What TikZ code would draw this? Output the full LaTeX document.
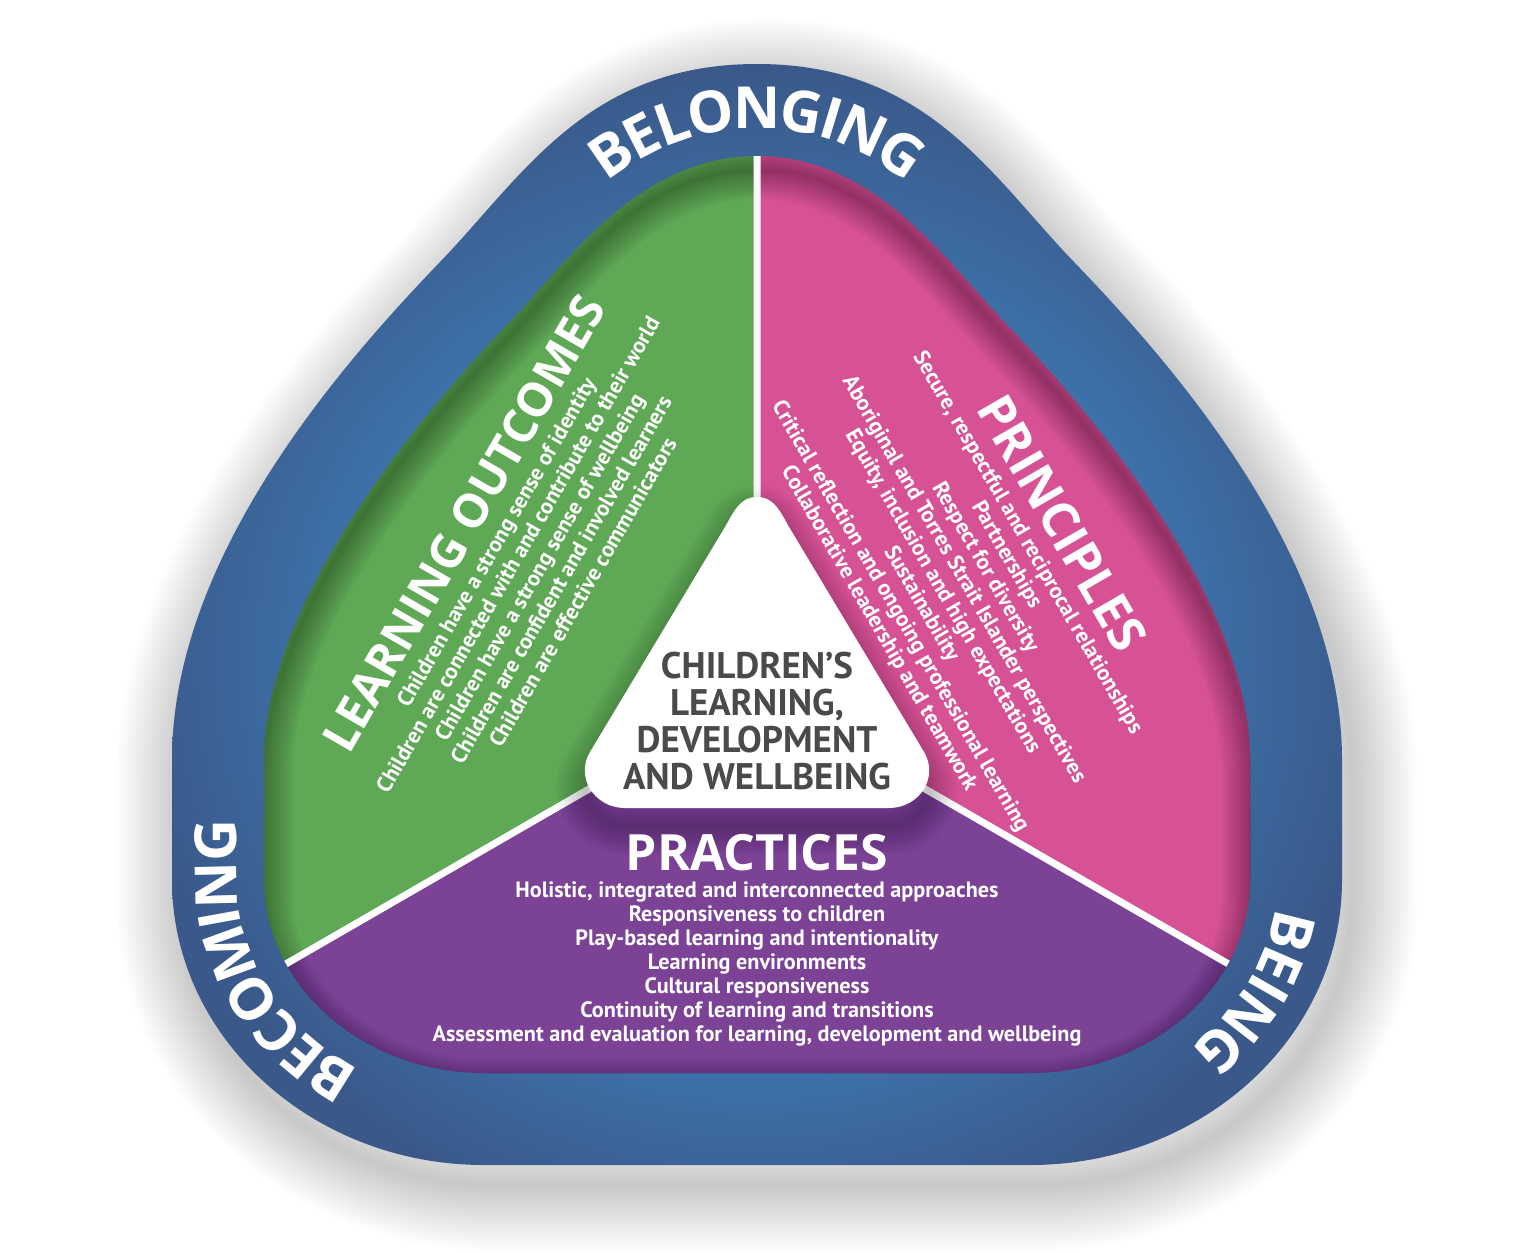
\documentclass[tikz,border=0pt]{standalone}
\usepackage{fontspec}
\setmainfont{PT Sans}
\newfontfamily\opensans{Open Sans}
\usetikzlibrary{decorations.text}
\definecolor{bandlight}{HTML}{3D72AA}
\definecolor{banddark}{HTML}{3A5889}
\definecolor{logreen}{HTML}{5EA856}
\definecolor{prpink}{HTML}{D75195}
\definecolor{prpurple}{HTML}{7B4295}
\definecolor{centergray}{HTML}{4A4A4D}
\pgfdeclareradialshading{bandshade}{\pgfpoint{0bp}{-4bp}}{color(0bp)=(bandlight); color(18bp)=(bandlight); color(27bp)=(banddark); color(50bp)=(banddark)}
\newcommand{\OuterPath}{(757,-64) .. controls (587,-64) and (523,-176) .. (440,-262)
 .. controls (336,-370) and (172,-560) .. (172,-760) -- (172,-880)
 .. controls (172,-1037) and (312,-1165) .. (484,-1165) -- (1030,-1165)
 .. controls (1202,-1165) and (1342,-1037) .. (1342,-880) -- (1342,-760)
 .. controls (1342,-560) and (1178,-370) .. (1074,-262)
 .. controls (991,-176) and (927,-64) .. (757,-64) -- cycle}
\newcommand{\InnerPath}{(757,-156) .. controls (637,-156) and (565,-265) .. (506,-326)
 .. controls (423,-412) and (264,-600) .. (264,-760) -- (264,-880)
 .. controls (264,-986) and (363,-1073) .. (484,-1073) -- (1030,-1073)
 .. controls (1151,-1073) and (1250,-986) .. (1250,-880) -- (1250,-760)
 .. controls (1250,-600) and (1091,-412) .. (1008,-326)
 .. controls (949,-265) and (877,-156) .. (757,-156) -- cycle}
\newcommand{\TriPath}{(757,-497) .. controls (775,-497) and (780.6,-512.9) .. (790.8,-530)
 -- (924,-752) .. controls (939.3,-777.7) and (919,-808) .. (889,-808)
 -- (625,-808) .. controls (595,-808) and (574.7,-777.7) .. (590,-752)
 -- (723.2,-530) .. controls (733.4,-512.9) and (739,-497) .. (757,-497) -- cycle}
\newcommand{\bandfont}{\opensans\bfseries\fontsize{29}{32}\selectfont}
\begin{document}
\begin{tikzpicture}[x=0.5pt,y=0.5pt,
  body/.style={text=white, font=\bfseries\fontsize{11.1}{13}\selectfont, inner sep=0pt, text height=7.8pt, text depth=0pt},
  headline/.style={text=white, font=\opensans\bfseries\fontsize{25}{28}\selectfont, inner sep=0pt, text height=17.9pt, text depth=0pt},
  ctext/.style={text=centergray, font=\bfseries\fontsize{18.5}{20}\selectfont, inner sep=0pt, text height=12.9pt, text depth=0pt},
  bandword/.style={decorate, decoration={text along path, text align=center, raise=-9.4pt, text color=white, text={|\bandfont|#1}}}]
\useasboundingbox (0,0) rectangle (1518,-1252);
\fill[white] (0,0) rectangle (1518,-1252);
% soft drop shadow
\foreach \i in {1,...,18}{
  \draw[black, opacity=0.011, line width=\i*3.6pt, xshift=5pt, yshift=-10pt] \OuterPath;
}
% band
\shade[shading=bandshade] \OuterPath;
% coloured sectors
\coordinate (C) at (757,-692);
\coordinate (topend) at (757,0);
\coordinate (leftend) at (0,-1129);
\coordinate (rightend) at (1518,-1131);
\begin{scope}
  \clip \InnerPath;
  \fill[logreen] (C) -- (topend) -- (0,0) -- (leftend) -- cycle;
  \fill[prpink] (C) -- (topend) -- (1518,0) -- (rightend) -- cycle;
  \fill[prpurple] (C) -- (leftend) -- (0,-1252) -- (1518,-1252) -- (rightend) -- cycle;
  \foreach \i in {1,...,16}{
    \draw[black, opacity=0.02, line width=\i*1.8pt, yshift=-7pt] \InnerPath;
  }
  \draw[white, line width=3.5pt] (C) -- (topend) (C) -- (leftend) (C) -- (rightend);
  \foreach \i in {1,...,12}{
    \draw[black, opacity=0.018, line width=\i*2.4pt, yshift=-9pt] \TriPath;
  }
\end{scope}
% centre triangle
\fill[white] \TriPath;
\node[ctext] (c1) at (757,-666) {CHILDREN’S};
\node[ctext] (c2) at (757,-703) {LEARNING,};
\node[ctext] (c3) at (757,-740) {DEVELOPMENT};
\node[ctext] (c4) at (757,-777) {AND WELLBEING};
% practices
\node[headline] (prt) at (757,-853) {PRACTICES};
\node[body] (pr1) at (757,-890) {Holistic, integrated and interconnected approaches};
\node[body] (pr2) at (757,-914) {Responsiveness to children};
\node[body] (pr3) at (757,-938) {Play-based learning and intentionality};
\node[body] (pr4) at (757,-962) {Learning environments};
\node[body] (pr5) at (757,-986) {Cultural responsiveness};
\node[body] (pr6) at (757,-1010) {Continuity of learning and transitions};
\node[body] (pr7) at (757,-1034) {Assessment and evaluation for learning, development and wellbeing};
% learning outcomes
\begin{scope}[shift={(463,-523)}, rotate=60, transform shape]
  \node[headline, font=\opensans\bfseries\fontsize{23.5}{28}\selectfont] (lot) at (0,0) {LEARNING OUTCOMES};
  \node[body] (lo1) at (0,-38) {Children have a strong sense of identity};
  \node[body] (lo2) at (0,-63) {Children are connected with and contribute to their world};
  \node[body] (lo3) at (0,-88) {Children have a strong sense of wellbeing};
  \node[body] (lo4) at (0,-113) {Children are confident and involved learners};
  \node[body] (lo5) at (0,-138) {Children are effective communicators};
\end{scope}
% principles
\begin{scope}[shift={(1062,-523)}, rotate=-60, transform shape]
  \node[headline] (pst) at (0,0) {PRINCIPLES};
  \node[body] (ps1) at (0,-38) {Secure, respectful and reciprocal relationships};
  \node[body] (ps2) at (0,-62.5) {Partnerships};
  \node[body] (ps3) at (0,-87) {Respect for diversity};
  \node[body] (ps4) at (0,-111.5) {Aboriginal and Torres Strait Islander perspectives};
  \node[body] (ps5) at (0,-136) {Equity, inclusion and high expectations};
  \node[body] (ps6) at (0,-160.5) {Sustainability};
  \node[body] (ps7) at (0,-185) {Critical reflection and ongoing professional learning};
  \node[body] (ps8) at (0,-209.5) {Collaborative leadership and teamwork};
\end{scope}
% band words
\path[bandword=BELONGING] (473,-294) .. controls (544,-220) and (612,-110) .. (757,-110) .. controls (902,-110) and (970,-220) .. (1041,-294);
\path[bandword=BECOMING] (484,-1119) .. controls (338,-1119) and (218,-1011) .. (218,-880) -- (218,-680);
\path[bandword=BEING] (1296,-728) -- (1296,-880) .. controls (1296,-1011) and (1176,-1119) .. (1030,-1119);
\end{tikzpicture}
\end{document}
